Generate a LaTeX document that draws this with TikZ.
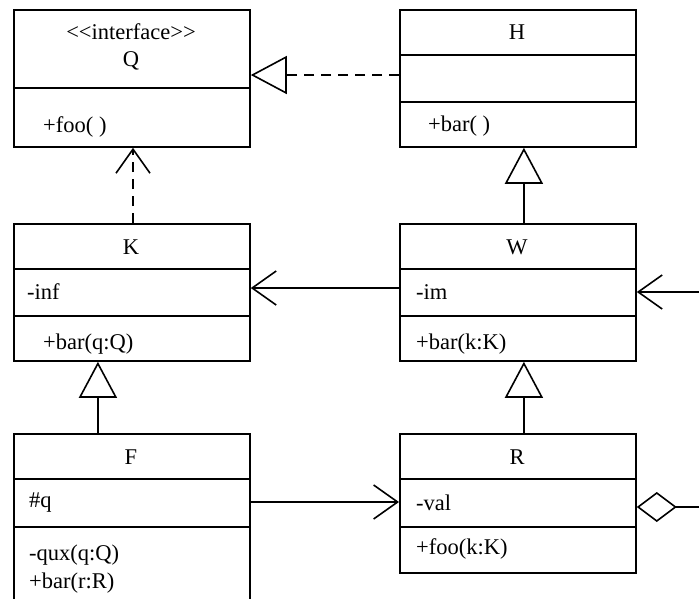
\documentclass[tikz,border=0pt]{standalone}
\usepackage{fontspec}
\setmainfont[Ligatures=NoCommon]{Liberation Serif}
\usetikzlibrary{arrows.meta}
\tikzset{
  umlbox/.style={draw, line width=1.8pt, rectangle, minimum width=236pt, inner sep=0pt, anchor=north west},
  divider/.style={line width=1.4pt},
  txt/.style={font=\fontsize{22.5}{26}\selectfont, inner sep=0pt, text=black},
  ltxt/.style={txt, anchor=west},
  conn/.style={line width=1.8pt},
  dashconn/.style={conn, dash pattern=on 10pt off 7pt},
  gentip/.style={-{Triangle[open,length=36pt,width=38pt,line width=1.6pt]}},
  opentip/.style={-{Straight Barb[length=24pt,width=34pt,line width=1.6pt]}},
  diatip/.style={-{Diamond[open,length=40pt,width=30pt,line width=1.6pt]}},
}
\begin{document}
\begin{tikzpicture}[x=1pt,y=-1pt]
\useasboundingbox (0,0) rectangle (699,598);
\clip (0,0) rectangle (699,598);
% boxes
\node[umlbox, minimum height=137pt] (Q) at (13,9) {};
\node[umlbox, minimum height=137pt] (H) at (399,9) {};
\node[umlbox, minimum height=137pt] (K) at (13,223) {};
\node[umlbox, minimum height=137pt] (W) at (399,223) {};
\node[umlbox, minimum height=190pt] (F) at (13,433) {};
\node[umlbox, minimum height=139pt] (R) at (399,433) {};
% dividers
\draw[divider] (13,88) -- (249,88);
\draw[divider] (399,55) -- (635,55);
\draw[divider] (399,102) -- (635,102);
\draw[divider] (13,269) -- (249,269);
\draw[divider] (13,316) -- (249,316);
\draw[divider] (399,269) -- (635,269);
\draw[divider] (399,316) -- (635,316);
\draw[divider] (13,479) -- (249,479);
\draw[divider] (13,527) -- (249,527);
\draw[divider] (399,479) -- (635,479);
\draw[divider] (399,527) -- (635,527);
% texts
\node[txt] (tQs) at (131,32) {\textless{}\textless{}interface\textgreater{}\textgreater{}};
\node[txt] (tQ) at (131,61) {Q};
\node[ltxt] (tQm) at (43,127) {+foo( )};
\node[txt] (tH) at (517,32) {H};
\node[ltxt] (tHm) at (428,126) {+bar( )};
\node[txt] (tK) at (131,247) {K};
\node[ltxt] (tKa) at (27,292) {-inf};
\node[ltxt] (tKm) at (43,344) {+bar(q:Q)};
\node[txt] (tW) at (517,247) {W};
\node[ltxt] (tWa) at (416,292) {-im};
\node[ltxt] (tWm) at (416,344) {+bar(k:K)};
\node[txt] (tF) at (131,457) {F};
\node[ltxt] (tFa) at (29,503) {\#q};
\node[ltxt] (tFm1) at (29,555) {-qux(q:Q)};
\node[ltxt] (tFm2) at (29,583) {+bar(r:R)};
\node[txt] (tR) at (517,457) {R};
\node[ltxt] (tRa) at (416,503) {-val};
\node[ltxt] (tRm) at (416,549) {+foo(k:K)};
% free ends
\coordinate (e1) at (699,292);
\coordinate (e2) at (699,507);
% connectors
\draw[dashconn, gentip] (H.west |- 0,75) -- (Q.east |- 0,75);
\draw[dashconn, opentip] (K.north -| 133,0) -- (Q.south -| 133,0);
\draw[conn, gentip] ([xshift=6pt]W.north) -- ([xshift=6pt]H.south);
\draw[conn, gentip] ([xshift=-34pt]F.north) -- ([xshift=-34pt]K.south);
\draw[conn, gentip] ([xshift=6pt]R.north) -- ([xshift=6pt]W.south);
\draw[conn, opentip] (W.west |- 0,288) -- (K.east |- 0,288);
\draw[conn, opentip] (e1) -- (W.east |- e1);
\draw[conn, opentip] (F.east |- 0,502) -- (R.west |- 0,502);
\draw[conn, diatip] (e2) -- (R.east |- e2);
\end{tikzpicture}
\end{document}
